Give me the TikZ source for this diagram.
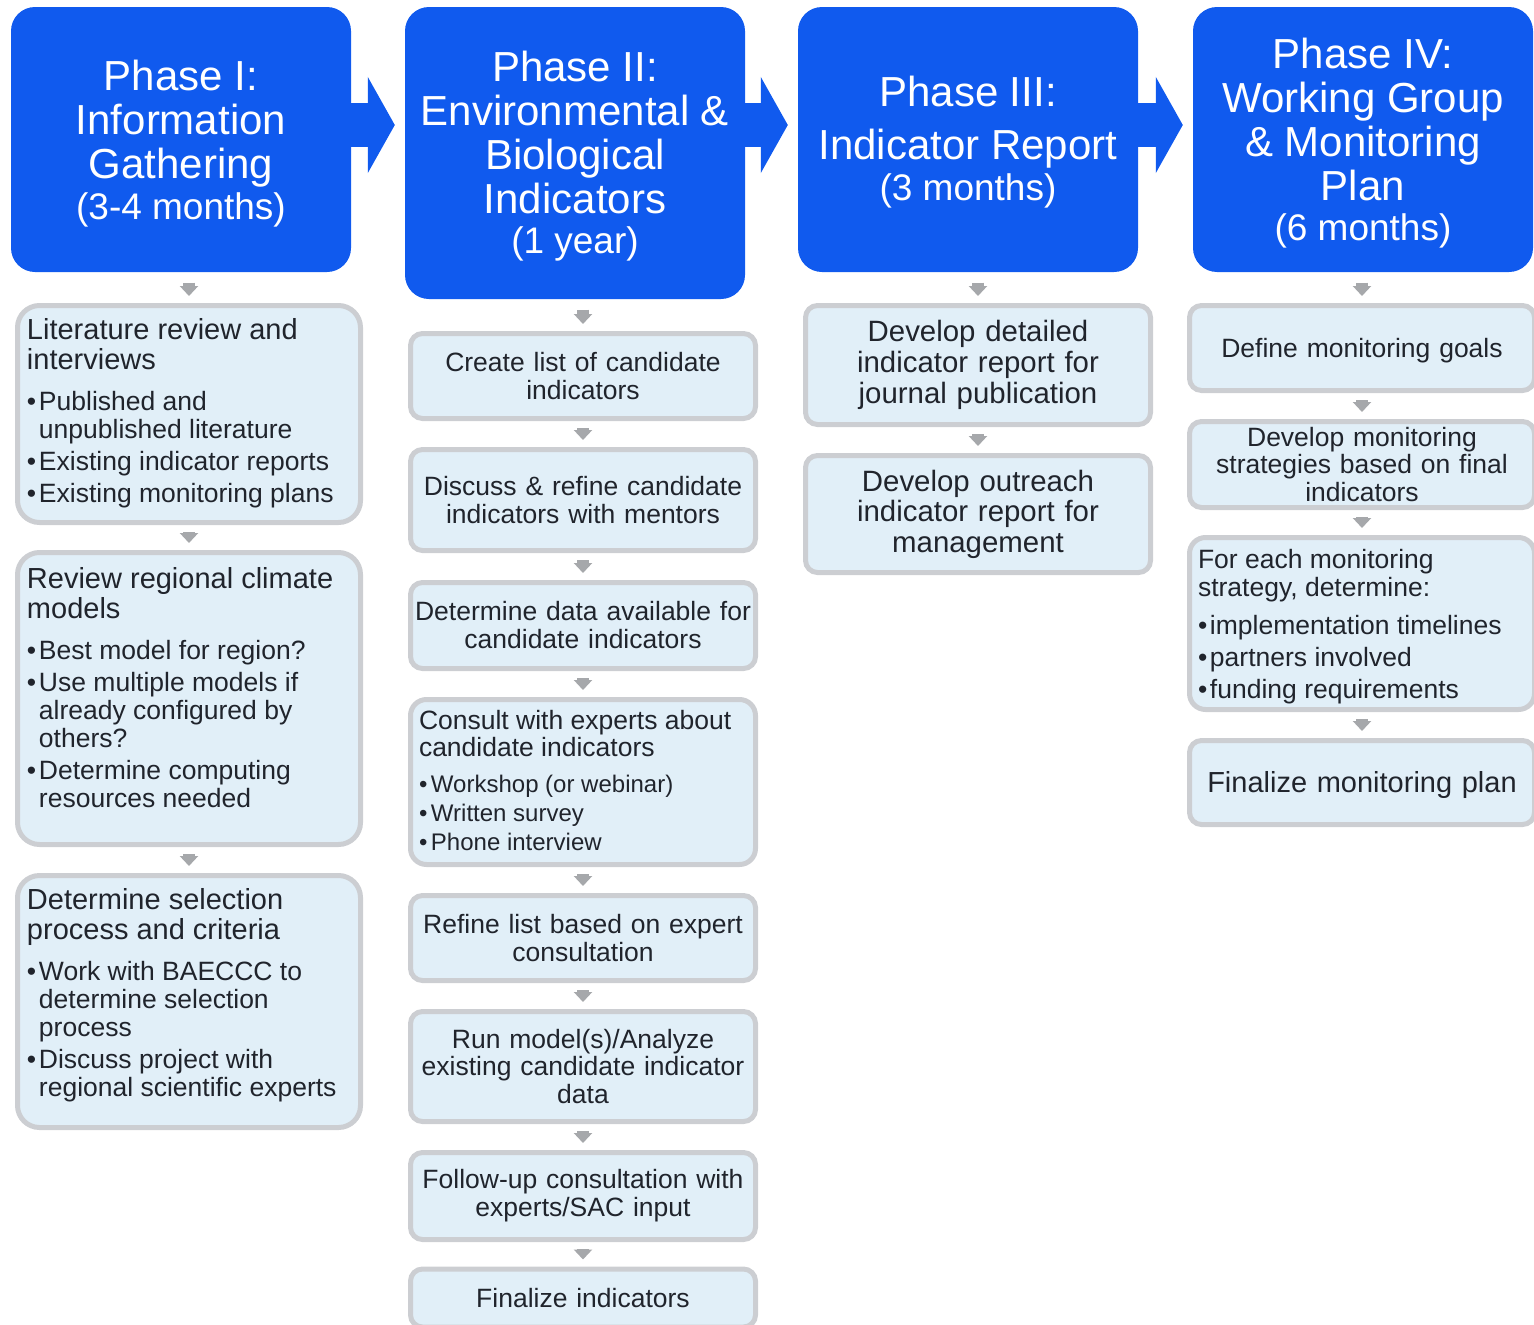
\documentclass[tikz,border=0pt]{standalone}
\usepackage{fontspec}
\setmainfont{Liberation Sans}
\usetikzlibrary{arrows.meta}
\definecolor{hdrblue}{RGB}{16,90,238}
\definecolor{boxfill}{RGB}{225,239,248}
\definecolor{boxline}{RGB}{204,206,210}
\definecolor{arrgray}{RGB}{166,168,171}
\definecolor{txt}{RGB}{32,36,44}
\newcommand{\subsz}{\fontsize{37}{42}\selectfont}
\newcommand{\hdsz}{\fontsize{29}{30}\selectfont}
\newcommand{\blsz}{\fontsize{26.5}{28}\selectfont}
\newcommand{\bitem}[2][4pt]{\par\vspace{#1}\hangindent=12pt\hangafter=1\noindent\makebox[12pt][l]{•}#2}
\newcommand{\lbox}[4]{\parbox[c][#1][t]{#2}{\raggedright\hyphenpenalty=10000\vspace*{#3}#4}}
\tikzset{
 hdr/.style={fill=hdrblue, rounded corners=24pt, text=white, align=center, inner sep=0pt,
   minimum width=340pt, font=\fontsize{42}{44}\selectfont},
 stepbox/.style={draw=boxline, line width=5pt, fill=boxfill, rounded corners=12pt, text=txt, inner sep=0pt},
 cbox/.style={stepbox, align=center, inner xsep=4pt, text width=337pt, minimum width=345pt,
   font=\fontsize{26.5}{28}\selectfont},
 blockarrow/.style={draw=hdrblue, line width=44pt, -{Triangle[length=27pt,width=95pt]}, shorten >=10pt},
 flow/.style={draw=arrgray, line width=12pt, -{Triangle[length=10pt,width=18pt]}, shorten <=7pt, shorten >=7pt},
}
\begin{document}
\begin{tikzpicture}[x=1pt,y=-1pt]
\useasboundingbox (0,0) rectangle (1534,1325);
\clip (0,0) rectangle (1534,1325);
% headers
\node[hdr, minimum height=265pt] (p1) at (181,139.5) {\rule{0pt}{38pt}Phase I:\\Information\\Gathering\\[-3pt]{\subsz (3-4 months)}};
\node[hdr, minimum height=292pt] (p2) at (575,153) {\rule{0pt}{37pt}Phase II:\\Environmental \&\\Biological\\Indicators\\[-4pt]{\subsz (1 year)}};
\node[hdr, minimum height=265pt] (p3) at (968,139.5) {\rule{0pt}{36pt}Phase III:\\[9pt]Indicator Report\\[-3pt]{\subsz (3 months)}};
\node[hdr, minimum height=265pt] (p4) at (1363,139.5) {\rule{0pt}{37pt}Phase IV:\\Working Group\\\& Monitoring\\Plan\\[-4pt]{\subsz (6 months)}};
\coordinate (ay) at (0,125);
\draw[blockarrow] (p1.east |- ay) -- (p2.west |- ay);
\draw[blockarrow] (p2.east |- ay) -- (p3.west |- ay);
\draw[blockarrow] (p3.east |- ay) -- (p4.west |- ay);
% column 1
\node[stepbox, rounded corners=22pt, inner xsep=9.5pt] (l1) at (189,414) {\lbox{217pt}{324pt}{12.5pt}{\hdsz\noindent Literature review and\newline interviews\par
 \blsz
 \bitem[13pt]{Published and\newline unpublished literature}
 \bitem{Existing indicator reports}
 \bitem{Existing monitoring plans}}};
\node[stepbox, rounded corners=22pt, inner xsep=9.5pt] (l2) at (189,698.5) {\lbox{292pt}{324pt}{15pt}{\hdsz\noindent Review regional climate\newline models\par
 \blsz
 \bitem[13pt]{Best model for region?}
 \bitem{Use multiple models if\newline already configured by\newline others?}
 \bitem{Determine computing\newline resources needed}}};
\node[stepbox, rounded corners=22pt, inner xsep=9.5pt] (l3) at (189,1001.5) {\lbox{252pt}{324pt}{12.5pt}{\hdsz\noindent Determine selection\newline process and criteria\par
 \blsz
 \bitem[13pt]{Work with BAECCC to\newline determine selection\newline process}
 \bitem{Discuss project with\newline regional scientific experts}}};
% column 2
\node[cbox, minimum height=85pt] (c1) at (583,376) {Create list of candidate\\indicators};
\node[cbox, minimum height=101pt] (c2) at (583,500) {Discuss \& refine candidate\\indicators with mentors};
\node[cbox, minimum height=86pt] (c3) at (583,625.5) {Determine data available for\\candidate indicators};
\node[stepbox, rounded corners=16pt, inner xsep=8.5pt] (c4) at (583,782) {\lbox{165pt}{328pt}{11pt}{\fontsize{26.5}{27}\selectfont\noindent Consult with experts about\newline candidate indicators\par
 \fontsize{24}{29}\selectfont
 \bitem[7pt]{Workshop (or webinar)}
 \bitem[0pt]{Written survey}
 \bitem[0pt]{Phone interview}}};
\node[cbox, minimum height=85pt] (c5) at (583,938) {Refine list based on expert\\consultation};
\node[cbox, minimum height=110pt, font=\fontsize{26.5}{27.5}\selectfont] (c6) at (583,1066.5) {Run model(s)/Analyze\\existing candidate indicator\\data};
\node[cbox, minimum height=87pt] (c7) at (583,1196) {Follow-up consultation with\\experts/SAC input};
\node[cbox, minimum height=58pt] (c8) at (583,1298) {Finalize indicators};
% column 3
\node[cbox, minimum height=119pt, font=\fontsize{29.4}{31}\selectfont] (d1) at (978,365) {Develop detailed\\indicator report for\\journal publication};
\node[cbox, minimum height=117pt, font=\fontsize{29.4}{30.5}\selectfont] (d2) at (978,514) {Develop outreach\\indicator report for\\management};
% column 4
\node[cbox, minimum height=85pt, text height=25.3pt] (e1) at (1362,348) {Define monitoring goals};
\node[cbox, minimum height=86pt, font=\fontsize{26.5}{27.5}\selectfont] (e2) at (1362,464.5) {Develop monitoring\\strategies based on final\\indicators};
\node[stepbox, rounded corners=16pt, inner xsep=8.5pt] (e3) at (1362,623.5) {\lbox{172pt}{328pt}{12pt}{\blsz\noindent For each monitoring\newline strategy, determine:\par
 \bitem[10pt]{implementation timelines}
 \bitem{partners involved}
 \bitem{funding requirements}}};
\node[cbox, minimum height=84pt, font=\fontsize{29}{31}\selectfont, text height=25pt] (e4) at (1362,782.5) {Finalize monitoring plan};
% flow arrows
\draw[flow, shorten <=10.5pt] (l1.north |- p1.south) -- (l1.north);
\draw[flow] (l1) -- (l2);
\draw[flow] (l2) -- (l3);
\draw[flow, shorten <=10.5pt] (c1.north |- p2.south) -- (c1.north);
\draw[flow] (c1.south) -- (c2.north);
\draw[flow] (c2.south) -- (c3.north);
\draw[flow] (c3.south) -- (c4.north);
\draw[flow] (c4.south) -- (c5.north);
\draw[flow] (c5.south) -- (c6.north);
\draw[flow] (c6.south) -- (c7.north);
\draw[flow] (c7.south) -- (c8.north);
\draw[flow, shorten <=10.5pt] (d1.north |- p3.south) -- (d1.north);
\draw[flow] (d1.south) -- (d2.north);
\draw[flow, shorten <=10.5pt] (e1.north |- p4.south) -- (e1.north);
\draw[flow] (e1.south) -- (e2.north);
\draw[flow] (e2.south) -- (e3.north);
\draw[flow] (e3.south) -- (e4.north);
\end{tikzpicture}
\end{document}
